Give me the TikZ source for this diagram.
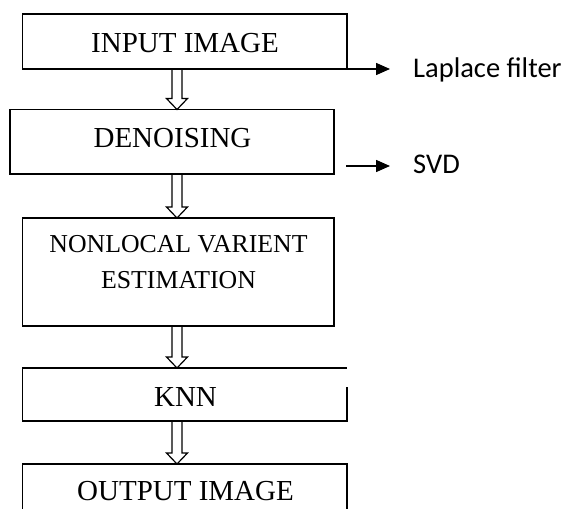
\documentclass[tikz,border=0pt]{standalone}
\usepackage{fontspec}
\setmainfont{Liberation Serif}
\newfontfamily\sidefont{Carlito}
\usetikzlibrary{arrows.meta,calc}

\tikzset{
  box/.style={draw, line width=1.5pt, inner sep=0pt, outer sep=0pt},
  boxtext/.style={inner sep=0pt, anchor=base, font=\fontsize{29}{35}\selectfont},
  sidetext/.style={inner sep=0pt, anchor=base west, font=\sidefont\fontsize{28.5}{34}\selectfont},
  hollow/.style={draw, line width=1.2pt, line join=miter},
  sidearrow/.style={line width=1.5pt, -{Triangle[length=14pt,width=12pt]}, shorten >=23pt}
}

% hollow block arrow from the top point #1 down to the tip #2
\newcommand\hollowarrow[2]{%
  \draw[hollow] let \p1=(#1), \p2=(#2) in
    (\x1-5pt,\y1) -- (\x1-5pt,\y2+11pt) -- (\x1-10.5pt,\y2+11pt) -- (\x1,\y2)
    -- (\x1+10.5pt,\y2+11pt) -- (\x1+5pt,\y2+11pt) -- (\x1+5pt,\y1);}

\begin{document}
\begin{tikzpicture}[x=1pt, y=-1pt]
  \clip (0,0) rectangle (566,509);
  \fill[white] (0,0) rectangle (566,509);

  % process boxes
  \node[box, minimum width=324.5pt, minimum height=55pt] (b1) at (184.75,41.5) {};
  \node[box, minimum width=324pt, minimum height=64.5pt] (b2) at (172,141.75) {};
  \node[box, minimum width=311.5pt, minimum height=108pt] (b3) at (178.25,272) {};
  \node[inner sep=0pt, outer sep=0pt, minimum width=324.5pt, minimum height=53pt] (b4) at (184.75,394.5) {};
  \draw[line width=1.5pt] ([yshift=34pt]b4.south east) -- (b4.south east) -- (b4.south west)
    -- (b4.north west) -- (b4.north east);
  \node[box, minimum width=324.5pt, minimum height=72pt] (b5) at (184.75,500) {};

  % box captions
  \node[boxtext] (t1) at (185,52) {INPUT IMAGE};
  \node[boxtext] (t2) at (172.5,147) {DENOISING};
  \node[inner sep=0pt, align=center, font=\fontsize{25.8}{36}\selectfont] (t3) at (178.5,262.5)
    {NONLOCAL VARIENT\\ESTIMATION};
  \node[boxtext] (t4) at (185.5,406) {KNN};
  \node[boxtext] (t5) at (185.5,500) {OUTPUT IMAGE};

  % hollow arrows between the boxes
  \coordinate (ax) at (177,0);
  \hollowarrow{ax |- b1.south}{ax |- b2.north}
  \hollowarrow{ax |- b2.south}{ax |- b3.north}
  \hollowarrow{ax |- b3.south}{ax |- b4.north}
  \hollowarrow{ax |- b4.south}{ax |- b5.north}

  % side annotations
  \node[sidetext] (lap) at (413,77) {Laplace filter};
  \node[sidetext] (svd) at (413,173) {SVD};
  \draw[sidearrow] (b1.south east) -- (b1.south east -| lap.west);
  \coordinate (svdfrom) at (346,166);
  \draw[sidearrow] (svdfrom) -- (svdfrom -| svd.west);
\end{tikzpicture}
\end{document}
